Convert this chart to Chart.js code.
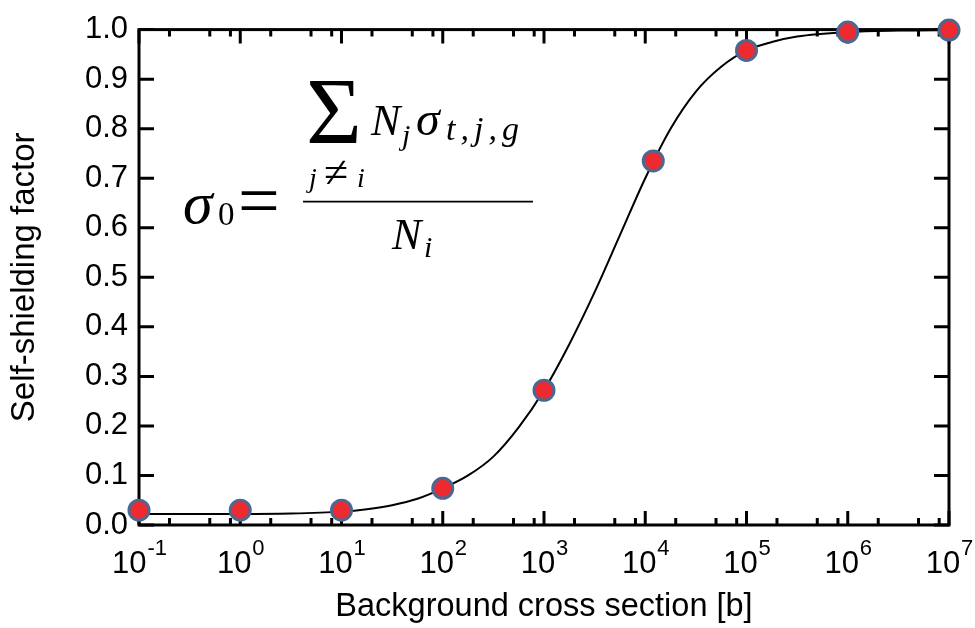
<!DOCTYPE html>
<html>
<head>
<meta charset="utf-8">
<script src="https://cdn.jsdelivr.net/npm/chart.js@4"></script>
<style>
  html, body { margin: 0; padding: 0; background: #fff; }
  #wrap { width: 975px; height: 628px; }
</style>
</head>
<body>
<div id="wrap"><canvas id="shieldChart"></canvas></div>
<script>
// Background cross sections (barns) and the calculated self-shielding factors
const sigma0 = [0.1, 1, 10, 100, 1000, 12000, 1e5, 1e6, 1e7];
const factor = [0.030, 0.030, 0.030, 0.074, 0.272, 0.735, 0.958, 0.995, 0.999];

// Fitted curve, sampled every quarter decade in the transition region
const curveX = [0.1, 0.316, 1, 3.16, 10, 17.8, 31.6, 56.2, 100, 178, 316, 562, 1000, 1778, 3162, 5623,
  10000, 17783, 31623, 56234, 1e5, 1.78e5, 3.16e5, 1e6, 3.16e6, 1e7];
const curveY = [0.022, 0.022, 0.022, 0.023, 0.027, 0.032, 0.040, 0.053, 0.074, 0.100, 0.138, 0.197, 0.272, 0.365, 0.470, 0.585,
  0.700, 0.800, 0.875, 0.925, 0.958, 0.975, 0.986, 0.995, 0.998, 0.999];

// Axis ticks
const decades = [-1, 0, 1, 2, 3, 4, 5, 6, 7];
const minorSteps = [2, 5, 8];
const yTicks = [0, 0.1, 0.2, 0.3, 0.4, 0.5, 0.6, 0.7, 0.8, 0.9, 1.0];

const SANS = '"Liberation Sans", Arial, sans-serif';
const SERIF = '"Liberation Serif", "Times New Roman", serif';

// box frame with inward ticks on all four sides
const frame = {
  id: 'frame',
  beforeDatasetsDraw(chart) {
    const { ctx, chartArea: a, scales: { x, y } } = chart;
    ctx.save();
    ctx.strokeStyle = '#000';
    ctx.lineWidth = 3;
    ctx.beginPath();
    yTicks.forEach(v => {
      const py = y.getPixelForValue(v);
      ctx.moveTo(a.left, py); ctx.lineTo(a.left + 15, py);
      ctx.moveTo(a.right, py); ctx.lineTo(a.right - 15, py);
    });
    decades.forEach(e => {
      const base = Math.pow(10, e);
      const px = x.getPixelForValue(base);
      ctx.moveTo(px, a.bottom); ctx.lineTo(px, a.bottom - 14);
      ctx.moveTo(px, a.top); ctx.lineTo(px, a.top + 14);
      if (e === decades[decades.length - 1]) return;
      minorSteps.forEach(m => {
        const mx = x.getPixelForValue(m * base);
        ctx.moveTo(mx, a.bottom); ctx.lineTo(mx, a.bottom - 7);
        ctx.moveTo(mx, a.top); ctx.lineTo(mx, a.top + 7);
      });
    });
    ctx.stroke();
    ctx.strokeRect(a.left, a.top, a.right - a.left, a.bottom - a.top);
    ctx.restore();
  },
  afterDraw(chart) {
    const { ctx, chartArea: a, scales: { x } } = chart;
    ctx.save();
    ctx.fillStyle = '#000';
    ctx.textBaseline = 'alphabetic';
    ctx.textAlign = 'left';

    // decade labels with raised exponents
    decades.forEach(e => {
      const px = x.getPixelForValue(Math.pow(10, e));
      ctx.font = '31px ' + SANS;
      const wb = ctx.measureText('10').width;
      ctx.font = '22px ' + SANS;
      const exp = e < 0 ? '-' + (-e) : String(e);
      const we = ctx.measureText(exp).width;
      const x0 = px - (wb + we) / 2;
      ctx.font = '31px ' + SANS;
      ctx.fillText('10', x0, a.bottom + 48);
      ctx.font = '22px ' + SANS;
      ctx.fillText(exp, x0 + wb + 1, a.bottom + 30);
    });

    // sigma_0 definition
    const L = a.left, T = a.top;
    const put = (txt, font, dx, dy, spacing) => {
      ctx.font = font;
      ctx.letterSpacing = spacing || '0px';
      ctx.fillText(txt, L + dx, T + dy);
    };
    put('σ', 'italic 60px ' + SERIF, 44, 193);
    put('0', '33px ' + SERIF, 79, 195);
    put('=', '74px ' + SERIF, 99, 195);
    put('Σ', '96px ' + SERIF, 167, 114);
    put('j', 'italic 28px ' + SERIF, 170, 157);
    put('≠', '44px ' + SERIF, 185, 157);
    put('i', 'italic 28px ' + SERIF, 218, 157);
    put('N', 'italic 44px ' + SERIF, 232, 105);
    put('j', 'italic 30px ' + SERIF, 263, 115);
    put('σ', 'italic 48px ' + SERIF, 277, 105);
    put('t,j,g', 'italic 34px ' + SERIF, 307, 110, '5px');
    put('N', 'italic 44px ' + SERIF, 253, 219);
    put('i', 'italic 30px ' + SERIF, 285, 227);
    ctx.letterSpacing = '0px';
    ctx.strokeStyle = '#000';
    ctx.lineWidth = 1.6;
    ctx.beginPath();
    ctx.moveTo(L + 164, T + 172);
    ctx.lineTo(L + 394, T + 172);
    ctx.stroke();
    ctx.restore();
  }
};

new Chart(document.getElementById('shieldChart'), {
  type: 'scatter',
  data: {
    datasets: [{
      label: 'Fit',
      data: curveX.map((v, i) => ({ x: v, y: curveY[i] })),
      showLine: true,
      borderColor: '#000',
      borderWidth: 2,
      pointRadius: 0,
      cubicInterpolationMode: 'monotone',
      clip: false,
      order: 2
    }, {
      label: 'Self-shielding factor',
      data: sigma0.map((v, i) => ({ x: v, y: factor[i] })),
      pointRadius: 10,
      pointBorderWidth: 3,
      pointBackgroundColor: '#ec2a30',
      pointBorderColor: '#4a6892',
      clip: false,
      order: 1
    }]
  },
  options: {
    responsive: true,
    maintainAspectRatio: false,
    animation: false,
    layout: { padding: { top: 23, right: 26, bottom: 0, left: 0 } },
    plugins: {
      legend: { display: false },
      tooltip: { enabled: false }
    },
    scales: {
      x: {
        type: 'logarithmic',
        min: 0.1,
        max: 1e7,
        grid: { display: false, drawTicks: false },
        border: { display: false },
        ticks: { display: false },
        title: {
          display: true,
          text: 'Background cross section [b]',
          color: '#000',
          font: { family: SANS, size: 32.5 },
          padding: { top: 0, bottom: 1 }
        },
        afterFit(scale) { scale.height = 103; }
      },
      y: {
        min: 0,
        max: 1,
        grid: { display: false, drawTicks: false },
        border: { display: false },
        afterBuildTicks(scale) { scale.ticks = yTicks.map(v => ({ value: v })); },
        ticks: {
          autoSkip: false,
          padding: 11,
          color: '#000',
          font: { family: SANS, size: 31 },
          callback: v => v.toFixed(1)
        },
        title: {
          display: true,
          text: 'Self-shielding factor',
          color: '#000',
          font: { family: SANS, size: 33 },
          padding: { top: 5, bottom: 0 }
        },
        afterFit(scale) { scale.width = 139; }
      }
    }
  },
  plugins: [frame]
});
</script>
</body>
</html>
